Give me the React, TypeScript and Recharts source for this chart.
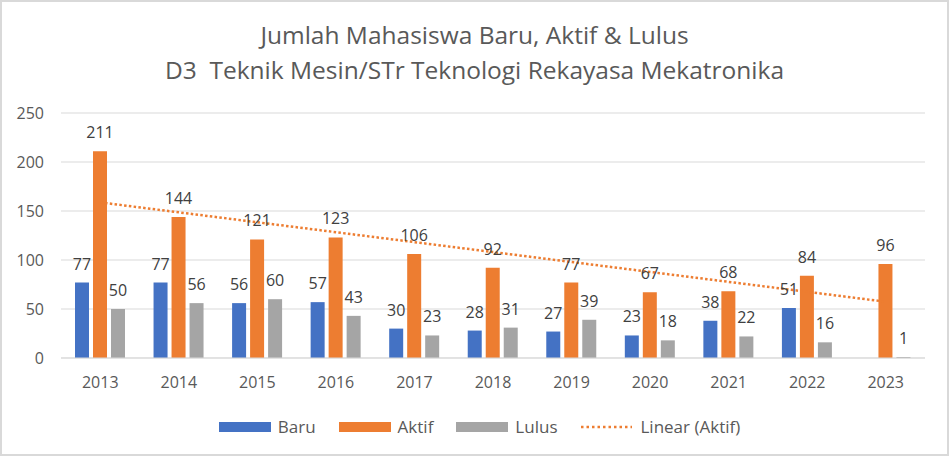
import React from "react"
import { ComposedChart, Bar, Line, XAxis, YAxis, CartesianGrid, LabelList } from "recharts"

const YEARS = ["2013", "2014", "2015", "2016", "2017", "2018", "2019", "2020", "2021", "2022", "2023"]
const BARU = [77, 77, 56, 57, 30, 28, 27, 23, 38, 51, null]
const AKTIF = [211, 144, 121, 123, 106, 92, 77, 67, 68, 84, 96]
const LULUS = [50, 56, 60, 43, 23, 31, 39, 18, 22, 16, 1]
const Y_TICKS = [0, 50, 100, 150, 200, 250]

const BLUE = "#4472C4"
const ORANGE = "#ED7D31"
const GRAY = "#A5A5A5"
const FONT = "'Open Sans', 'Noto Sans', sans-serif"

// linear trendline of Aktif (least squares, like Excel's "Linear")
const n = AKTIF.length
const meanX = (n - 1) / 2
const meanY = AKTIF.reduce((a, b) => a + b, 0) / n
let sxy = 0
let sxx = 0
AKTIF.forEach((y, i) => {
  sxy += (i - meanX) * (y - meanY)
  sxx += (i - meanX) * (i - meanX)
})
const slope = sxy / sxx

const data = YEARS.map((year, i) => ({
  year,
  baru: BARU[i],
  aktif: AKTIF[i],
  lulus: LULUS[i],
  trend: meanY + slope * (i - meanX),
}))

const legendItems = [
  { name: "Baru", color: BLUE, dotted: false },
  { name: "Aktif", color: ORANGE, dotted: false },
  { name: "Lulus", color: GRAY, dotted: false },
  { name: "Linear (Aktif)", color: ORANGE, dotted: true },
]

export default function App() {
  const labelStyle = { fill: "#404040", fontSize: 16, fontFamily: FONT }
  return (
    <div
      style={{
        position: "absolute",
        left: 0,
        top: 0,
        width: 949,
        height: 456,
        background: "#fff",
        border: "2px solid #d9d9d9",
        boxSizing: "border-box",
        fontFamily: FONT,
      }}
    >
      <div
        style={{
          position: "absolute",
          top: 15,
          left: -2,
          width: 949,
          textAlign: "center",
          color: "#595959",
          fontSize: 24.5,
          lineHeight: "35px",
          whiteSpace: "pre",
        }}
      >
        {"Jumlah Mahasiswa Baru, Aktif & Lulus\nD3  Teknik Mesin/STr Teknologi Rekayasa Mekatronika"}
      </div>
      <div style={{ position: "absolute", top: -2, left: -2 }}>
        <ComposedChart
          width={949}
          height={456}
          data={data}
          margin={{ top: 113, right: 24, bottom: 68, left: 0 }}
          barSize={14}
          barGap={4}
        >
          <CartesianGrid vertical={false} stroke="#d9d9d9" />
          <XAxis
            dataKey="year"
            axisLine={{ stroke: "#d9d9d9" }}
            tickLine={false}
            tickSize={0}
            tickMargin={19}
            height={30}
            tick={{ fill: "#595959", fontSize: 16, fontFamily: FONT }}
          />
          <YAxis
            domain={[0, 250]}
            ticks={Y_TICKS}
            width={61}
            axisLine={false}
            tickLine={false}
            tickSize={0}
            tickMargin={17}
            tick={{ fill: "#595959", fontSize: 16, fontFamily: FONT }}
          />
          <Line
            dataKey="trend"
            stroke={ORANGE}
            strokeWidth={2.5}
            strokeDasharray="2.5 2.3"
            dot={false}
            activeDot={false}
            isAnimationActive={false}
          />
          <Bar dataKey="baru" fill={BLUE} isAnimationActive={false}>
            <LabelList dataKey="baru" position="top" offset={13} style={labelStyle} />
          </Bar>
          <Bar dataKey="aktif" fill={ORANGE} isAnimationActive={false}>
            <LabelList dataKey="aktif" position="top" offset={13} style={labelStyle} />
          </Bar>
          <Bar dataKey="lulus" fill={GRAY} isAnimationActive={false}>
            <LabelList dataKey="lulus" position="top" offset={13} style={labelStyle} />
          </Bar>
        </ComposedChart>
      </div>
      <div
        style={{
          position: "absolute",
          top: 413,
          left: -2,
          width: 949,
          display: "flex",
          justifyContent: "center",
          alignItems: "center",
          color: "#595959",
          fontSize: 17,
          paddingLeft: 10,
          boxSizing: "border-box",
        }}
      >
        {legendItems.map((item) => (
          <div key={item.name} style={{ display: "flex", alignItems: "center", margin: "0 11.5px" }}>
            {item.dotted ? (
              <svg width={52} height={10} style={{ marginRight: 8 }}>
                <line x1={1} y1={5} x2={52} y2={5} stroke={item.color} strokeWidth={2.5} strokeDasharray="2.5 3" />
              </svg>
            ) : (
              <div style={{ width: 52, height: 10, background: item.color, marginRight: 7 }} />
            )}
            <span>{item.name}</span>
          </div>
        ))}
      </div>
    </div>
  )
}
